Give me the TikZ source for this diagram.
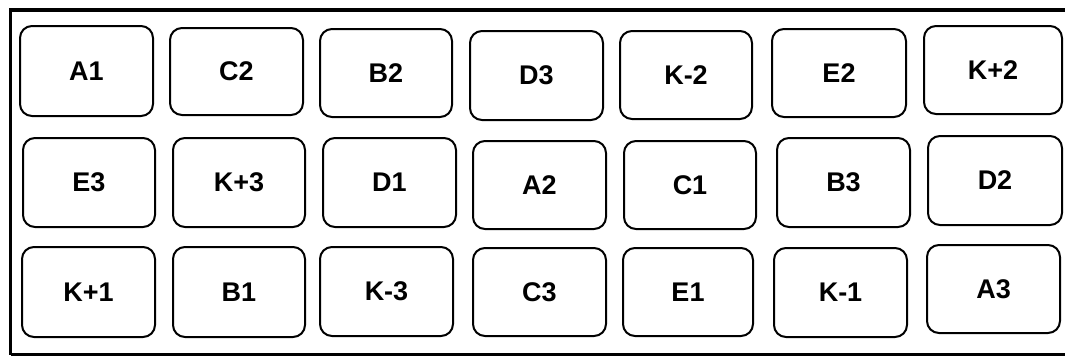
\documentclass[tikz,border=0pt]{standalone}
\usepackage{fontspec}
\setmainfont{Liberation Sans}
\begin{document}
\begin{tikzpicture}[x=1pt,y=-1pt,
  cell/.style={draw, line width=2pt, rounded corners=12pt, fill=white,
    inner sep=0pt, font=\fontsize{27}{30}\selectfont\bfseries},
  frameline/.style={draw, line width=3.5pt}]
\useasboundingbox (0,0) rectangle (1065,356);
\newcommand\gridcell[6]{\node[cell, minimum width=#4pt, minimum height=#5pt] (#1) at (#2,#3) {#6};}
% frame
\coordinate (ftr) at (1070,10);
\coordinate (ftl) at (10.5,10);
\coordinate (fbl) at (10.5,354.5);
\coordinate (fbr) at (1070,354.5);
\draw[frameline] (ftr) -- (ftl) -- (fbl);
\draw[line width=2.5pt] (fbl) -- (fbr);
% row 1
\gridcell{a1}{86.5}{71}{133}{90}{A1}
\gridcell{c2}{236.5}{71.5}{133}{87}{C2}
\gridcell{b2}{386}{73}{132}{88}{B2}
\gridcell{d3}{536.5}{75.5}{133}{89}{D3}
\gridcell{km2}{686}{75}{132}{88}{K-2}
\gridcell{e2}{839}{73}{134}{88}{E2}
\gridcell{kp2}{993}{70}{138}{88}{K+2}
% row 2
\gridcell{e3}{89}{182.5}{132}{89}{E3}
\gridcell{kp3}{239}{182.5}{132}{89}{K+3}
\gridcell{d1}{389.5}{182.5}{133}{89}{D1}
\gridcell{a2}{539.5}{185}{133}{88}{A2}
\gridcell{c1}{690}{185}{132}{88}{C1}
\gridcell{b3}{843.5}{182.5}{133}{89}{B3}
\gridcell{d2}{995}{180.5}{134}{89}{D2}
% row 3
\gridcell{kp1}{88.5}{292}{133}{90}{K+1}
\gridcell{b1}{239}{292}{132}{90}{B1}
\gridcell{km3}{386.5}{291.5}{133}{89}{K-3}
\gridcell{c3}{539.5}{292}{133}{88}{C3}
\gridcell{e1}{688}{292}{130}{88}{E1}
\gridcell{km1}{840.5}{292.5}{133}{89}{K-1}
\gridcell{a3}{993.5}{289}{133}{88}{A3}
\end{tikzpicture}
\end{document}
